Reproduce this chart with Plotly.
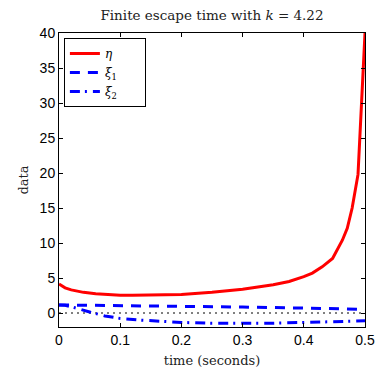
import plotly.graph_objects as go

# eta
t_eta = [0, 0.01, 0.02, 0.04, 0.06, 0.08, 0.1, 0.12, 0.15, 0.2, 0.25, 0.3, 0.35,
         0.376, 0.4, 0.414, 0.43, 0.447, 0.463, 0.471, 0.479, 0.4886, 0.5]
eta = [4.15, 3.6, 3.3, 2.95, 2.75, 2.62, 2.55, 2.52, 2.53, 2.65, 2.95, 3.4, 4.05,
       4.5, 5.2, 5.7, 6.6, 7.8, 10.4, 12.1, 15.0, 19.8, 40.0]

# xi_1
t_xi1 = [0, 0.1, 0.2, 0.3, 0.4, 0.5]
xi1 = [1.15, 1.08, 0.98, 0.85, 0.7, 0.52]

# xi_2
t_xi2 = [0, 0.01, 0.02, 0.035, 0.05, 0.075, 0.1, 0.13, 0.16, 0.2, 0.25, 0.3,
         0.35, 0.4, 0.45, 0.5]
xi2 = [1.15, 1.1, 0.9, 0.5, 0.15, -0.43, -0.77, -1.0, -1.15, -1.35, -1.47, -1.5,
       -1.45, -1.35, -1.22, -1.12]

# zero reference line
t_zero = [0, 0.5]
zero = [0, 0]

x_ticks = [0, 0.1, 0.2, 0.3, 0.4, 0.5]
x_tick_labels = ["0", "0.1", "0.2", "0.3", "0.4", "0.5"]
y_ticks = [0, 5, 10, 15, 20, 25, 30, 35, 40]

serif = "DejaVu Serif, serif"
sans = "Liberation Sans, Arial, sans-serif"
pad = "\u00a0" * 6

fig = go.Figure()
fig.add_trace(go.Scatter(x=t_zero, y=zero, mode="lines", showlegend=False,
                         line=dict(color="black", width=1, dash="2px,4px")))
fig.add_trace(go.Scatter(x=t_eta, y=eta, mode="lines", name="<i>η</i>" + pad,
                         line=dict(color="#ff0000", width=3)))
fig.add_trace(go.Scatter(x=t_xi1, y=xi1, mode="lines",
                         name="<i>ξ</i><sub>1</sub>" + pad,
                         line=dict(color="#0000ff", width=3, dash="10px,8px")))
fig.add_trace(go.Scatter(x=t_xi2, y=xi2, mode="lines",
                         name="<i>ξ</i><sub>2</sub>" + pad,
                         line=dict(color="#0000ff", width=3, dash="10px,5px,2px,6px")))

# body has an 8px default margin: figure sized so the plot area lands at
# x 59..365, y 33..327 in the 384x372 window
fig.update_layout(
    width=376, height=364,
    margin=dict(l=51, r=19, t=25, b=45),
    paper_bgcolor="white", plot_bgcolor="white",
    title=dict(text="Finite escape time with <i>k</i> = 4.22",
               xref="paper", x=0.5, xanchor="center", y=0.994, yanchor="top",
               font=dict(family=serif, size=13.5, color="#222")),
    legend=dict(x=0.016, y=0.983, xanchor="left", yanchor="top",
                bgcolor="white", bordercolor="black", borderwidth=1,
                font=dict(family=serif, size=12, color="black"),
                tracegroupgap=0, itemwidth=30),
    showlegend=True,
)
fig.update_xaxes(range=[0, 0.5], tickvals=x_ticks, ticktext=x_tick_labels,
                 automargin=False,
                 showgrid=False, zeroline=False, showline=True, linecolor="black",
                 linewidth=1, mirror="allticks", ticks="inside", ticklen=4,
                 tickcolor="black",
                 tickfont=dict(family=sans, size=14, color="black"),
                 title=dict(text="time (seconds)", standoff=9,
                            font=dict(family=serif, size=13, color="#222")))
fig.update_yaxes(range=[-2, 40], tickvals=y_ticks, automargin=False,
                 showgrid=False, zeroline=False, showline=True, linecolor="black",
                 linewidth=1, mirror="allticks", ticks="inside", ticklen=4,
                 tickcolor="black",
                 tickfont=dict(family=sans, size=14, color="black"),
                 title=dict(text="data", standoff=8,
                            font=dict(family=serif, size=13, color="#222")))

fig.write_html("out.html")
